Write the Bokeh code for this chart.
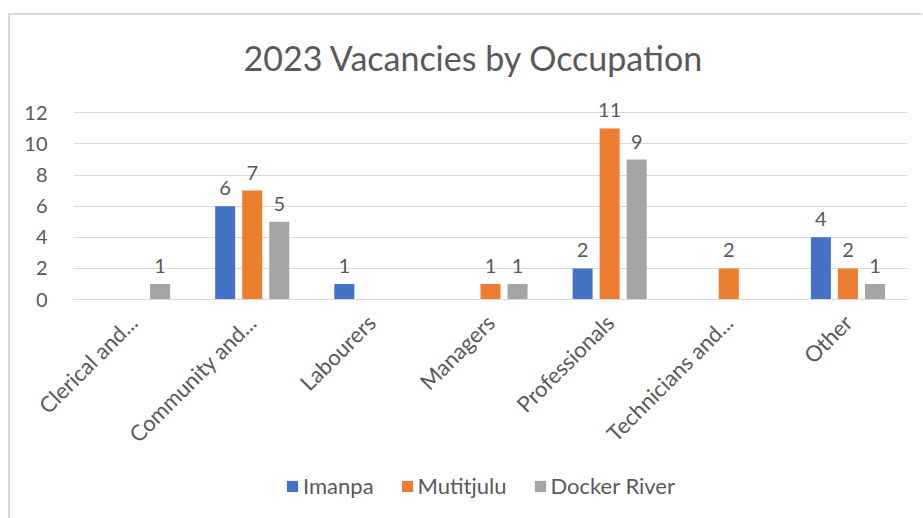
import math
from bokeh.plotting import figure
from bokeh.layouts import column
from bokeh.models import ColumnDataSource, Legend, LegendItem, FixedTicker, Range1d
from bokeh.transform import dodge
from bokeh.core.properties import value
from bokeh.embed import file_html
from bokeh.resources import INLINE

categories = ["Clerical and...", "Community and...", "Labourers", "Managers",
              "Professionals", "Technicians and...", "Other"]
series_names = ["Imanpa", "Mutitjulu", "Docker River"]
imanpa = [0, 6, 1, 0, 2, 0, 4]
mutitjulu = [0, 7, 0, 1, 11, 2, 2]
docker_river = [1, 5, 0, 1, 9, 0, 1]
y_ticks = [0, 2, 4, 6, 8, 10, 12]

colors = ["#4472C4", "#ED7D31", "#A5A5A5"]
offsets = [-0.227, 0.0, 0.227]
FONT = "Lato"
TXT = "#595959"

p = figure(x_range=categories, y_range=Range1d(0, 13.5),
           width=912, height=446, output_backend="svg", toolbar_location=None,
           min_border_left=63, min_border_right=15, min_border_top=74,
           min_border_bottom=162)
p.outline_line_color = None
p.background_fill_color = "white"
p.border_fill_color = "white"

p.title.text = "2023 Vacancies by Occupation"
p.title.align = "left"
p.title.offset = 170
p.title.standoff = 23
p.title.text_font = FONT
p.title.text_font_style = "normal"
p.title.text_font_size = "34px"
p.title.text_color = TXT

series = [imanpa, mutitjulu, docker_river]
for name, vals, col, off in zip(series_names, series, colors, offsets):
    src = ColumnDataSource(dict(cat=categories, val=vals))
    p.vbar(x=dodge("cat", off, range=p.x_range), top="val", width=0.168,
           source=src, fill_color=col, line_color=None)
    lab_cats = [c for c, v in zip(categories, vals) if v != 0]
    lab_vals = [v for v in vals if v != 0]
    lsrc = ColumnDataSource(dict(cat=lab_cats, val=lab_vals, txt=[str(v) for v in lab_vals]))
    p.text(x=dodge("cat", off, range=p.x_range), y="val", text="txt", source=lsrc,
           text_align="center", text_baseline="alphabetic", y_offset=-18,
           text_font=value(FONT), text_font_size="20px", text_color=TXT)

p.yaxis.ticker = FixedTicker(ticks=y_ticks)
p.yaxis.axis_line_color = None
p.yaxis.major_tick_line_color = None
p.yaxis.minor_tick_line_color = None
p.yaxis.major_label_standoff = 20
p.yaxis.major_label_text_font = FONT
p.yaxis.major_label_text_font_size = "20px"
p.yaxis.major_label_text_color = TXT

p.xaxis.axis_line_color = "#d9d9d9"
p.xaxis.axis_line_width = 1
p.xaxis.major_tick_line_color = None
p.xaxis.minor_tick_line_color = None
p.xaxis.major_label_orientation = math.pi / 4
p.xaxis.major_label_standoff = 13
p.xaxis.major_label_text_font = FONT
p.xaxis.major_label_text_font_size = "22px"
p.xaxis.major_label_text_color = TXT

p.xgrid.grid_line_color = None
p.ygrid.grid_line_color = "#d9d9d9"
p.ygrid.grid_line_width = 1

# legend strip
p2 = figure(x_range=Range1d(0, 1), y_range=Range1d(0, 1), width=912, height=57,
            output_backend="svg", toolbar_location=None,
            min_border_left=0, min_border_right=0, min_border_top=0,
            min_border_bottom=0)
p2.axis.visible = False
p2.grid.visible = False
p2.outline_line_color = None
p2.border_fill_color = "white"
items = []
for name, col in zip(series_names, colors):
    # off-range swatch renderer, only used for the legend glyph
    r = p2.vbar(x=[-5], top=[0], width=0.1, fill_color=col, line_color=None)
    items.append(LegendItem(label=name, renderers=[r]))
legend = Legend(items=items, orientation="horizontal", location=(212, 19),
                glyph_width=14, glyph_height=14, label_standoff=4, spacing=26,
                padding=0, margin=0, border_line_color=None,
                background_fill_alpha=0,
                label_text_font=FONT, label_text_font_size="22px",
                label_text_color=TXT)
p2.add_layout(legend, "center")

layout = column(p, p2, spacing=0)
layout.styles = {"border-top": "2px solid #d9d9d9", "border-left": "2px solid #d9d9d9",
                 "margin-top": "13px", "margin-left": "8px"}

open("out.html", "w").write(file_html(layout, INLINE))
